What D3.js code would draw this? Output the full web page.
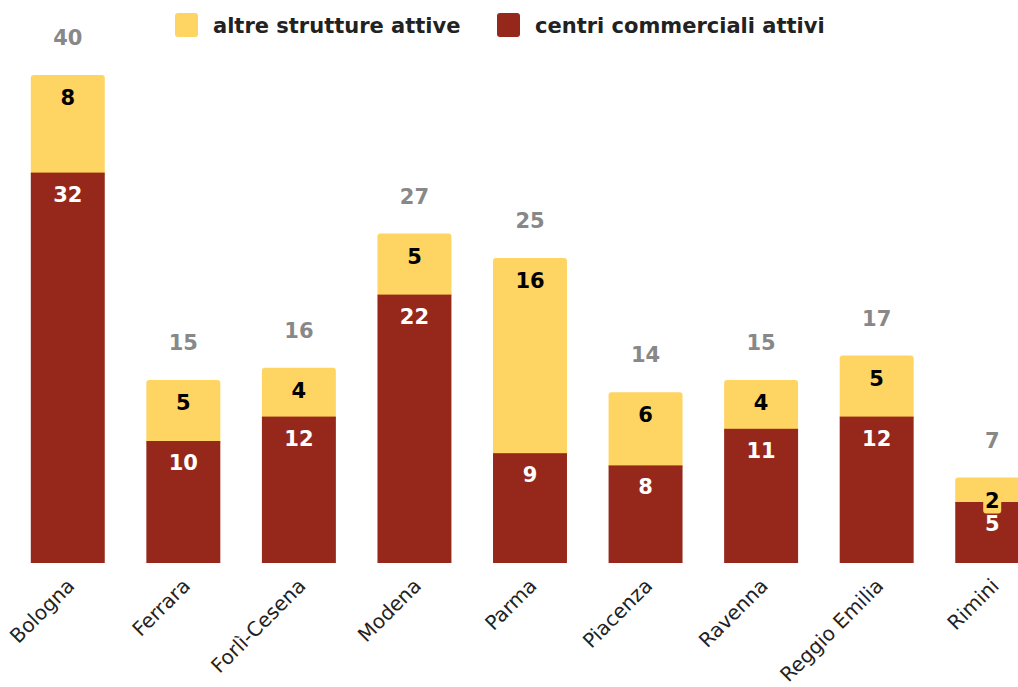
<!DOCTYPE html>
<html>
<head>
<meta charset="utf-8">
<script src="https://cdn.jsdelivr.net/npm/d3@7"></script>
<style>
  body { margin: 0; background: #fff; }
  svg { display: block; font-family: "DejaVu Sans", Verdana, sans-serif; }
</style>
</head>
<body>
<div id="chart"></div>
<script>
  // Data
  const provinces = ["Bologna", "Ferrara", "Forlì-Cesena", "Modena", "Parma", "Piacenza", "Ravenna", "Reggio Emilia", "Rimini"];
  const centri = [32, 10, 12, 22, 9, 8, 11, 12, 5];
  const altre = [8, 5, 4, 5, 16, 6, 4, 5, 2];
  const seriesNames = ["altre strutture attive", "centri commerciali attivi"];

  const colorAltre = "#FED463";
  const colorCentri = "#96281B";

  const width = 1018, height = 687;
  const baseline = 563;

  const svg = d3.select("#chart")
    .append("svg")
    .attr("width", width)
    .attr("height", height);

  const rows = provinces.map((p, i) => ({ name: p, centri: centri[i], altre: altre[i], total: centri[i] + altre[i] }));

  // Scales
  const x = d3.scaleBand()
    .domain(provinces)
    .range([10, 1050])
    .paddingInner(0.36)
    .paddingOuter(0.18);

  const y = d3.scaleLinear()
    .domain([0, 40])
    .range([baseline, 75]);

  // Yellow segments (rounded top), slightly extended under the red ones
  svg.selectAll(".altre")
    .data(rows)
    .enter()
    .append("rect")
    .attr("class", "altre")
    .attr("x", d => x(d.name))
    .attr("y", d => y(d.total))
    .attr("width", x.bandwidth())
    .attr("height", d => y(d.centri) - y(d.total) + 4)
    .attr("rx", 3)
    .attr("fill", colorAltre);

  svg.selectAll(".centri")
    .data(rows)
    .enter()
    .append("rect")
    .attr("class", "centri")
    .attr("x", d => x(d.name))
    .attr("y", d => y(d.centri))
    .attr("width", x.bandwidth())
    .attr("height", d => baseline - y(d.centri))
    .attr("fill", colorCentri);

  // Red segment labels
  svg.selectAll(".lblCentri")
    .data(rows)
    .enter()
    .append("text")
    .attr("x", d => x(d.name) + x.bandwidth() / 2)
    .attr("y", d => y(d.centri) + 29)
    .attr("text-anchor", "middle")
    .attr("font-size", 21)
    .attr("font-weight", "bold")
    .attr("fill", "#fff")
    .text(d => d.centri);

  // Yellow segment labels (with background box)
  const lblA = svg.selectAll(".lblAltre")
    .data(rows)
    .enter()
    .append("g")
    .attr("transform", d => `translate(${x(d.name) + x.bandwidth() / 2},${y(d.total) + 30})`);

  lblA.append("rect")
    .attr("x", -9)
    .attr("y", -19)
    .attr("width", 18)
    .attr("height", 25)
    .attr("rx", 3)
    .attr("fill", colorAltre);

  lblA.append("text")
    .attr("text-anchor", "middle")
    .attr("font-size", 21)
    .attr("font-weight", "bold")
    .attr("fill", "#000")
    .text(d => d.altre);

  // Totals
  svg.selectAll(".total")
    .data(rows)
    .enter()
    .append("text")
    .attr("x", d => x(d.name) + x.bandwidth() / 2)
    .attr("y", d => y(d.total) - 30)
    .attr("text-anchor", "middle")
    .attr("font-size", 21)
    .attr("font-weight", "bold")
    .attr("fill", "#888")
    .text(d => d.total);

  // X axis labels
  svg.selectAll(".xlabel")
    .data(provinces)
    .enter()
    .append("text")
    .attr("text-anchor", "end")
    .attr("font-size", 20)
    .attr("fill", "#222")
    .attr("transform", d => `translate(${x(d) + x.bandwidth() / 2 + 8},${baseline + 24}) rotate(-45)`)
    .text(d => d);

  // Legend
  const legend = svg.append("g");
  const legendItems = [
    { name: seriesNames[0], color: colorAltre, x: 175 },
    { name: seriesNames[1], color: colorCentri, x: 497 }
  ];
  const li = legend.selectAll("g")
    .data(legendItems)
    .enter()
    .append("g")
    .attr("transform", d => `translate(${d.x},13)`);
  li.append("rect")
    .attr("width", 23)
    .attr("height", 24)
    .attr("rx", 3)
    .attr("fill", d => d.color);
  li.append("text")
    .attr("x", 38)
    .attr("y", 20)
    .attr("font-size", 21)
    .attr("font-weight", "bold")
    .attr("fill", "#222")
    .text(d => d.name);
</script>
</body>
</html>
